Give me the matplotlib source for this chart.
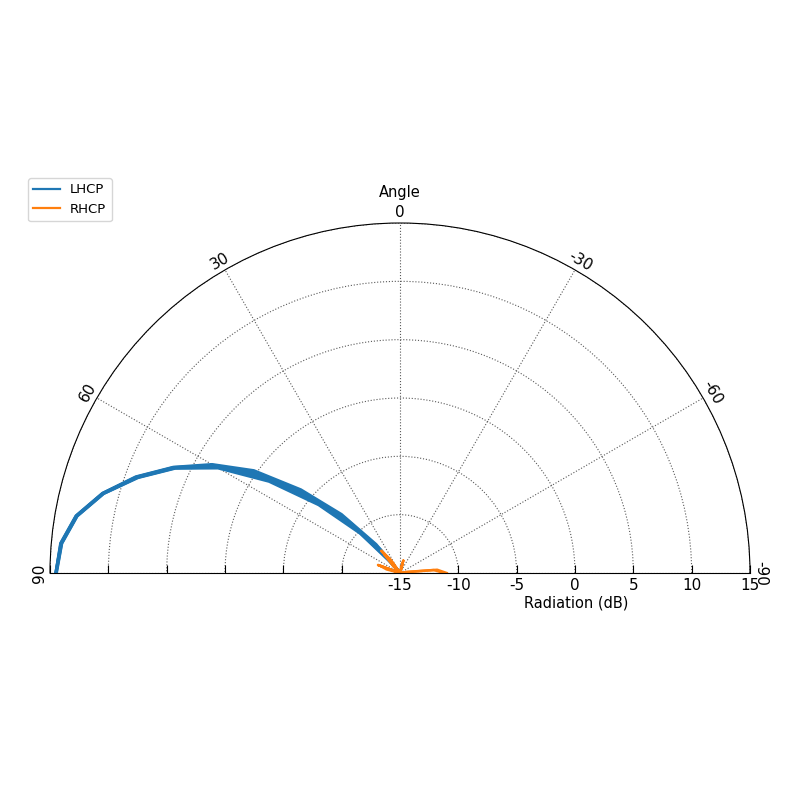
import numpy as np
import matplotlib
matplotlib.use("Agg")
import matplotlib.pyplot as plt

# angles in degrees, 0 = boresight
angles = [-90, -85, -80, -75, -70, -65, -60, -55, -50, -45, -40, -35, -30,
          -25, -20, -15, -10, -5, 0, 5, 10, 15, 20, 25, 30, 35, 40,
          45, 50, 55, 60, 65, 70, 75, 80, 85, 90]

floor = [-15] * 26  # -90 .. 35, at or below the plot floor

lhcp_1 = floor + [-11.8, -7.9, -3.9, 0.3, 3.6, 6.45, 9.1, 11.4, 13.2, 14.2, 14.5]
lhcp_2 = floor + [-12.35, -8.5, -4.4, -0.1, 3.45, 6.4, 9.05, 11.38, 13.18, 14.18, 14.5]
lhcp_3 = floor + [-12.9, -9.1, -4.9, -0.5, 3.3, 6.35, 9.0, 11.35, 13.15, 14.15, 14.5]
lhcp_4 = floor + [-13.45, -9.6, -5.4, -0.9, 3.15, 6.3, 8.95, 11.32, 13.12, 14.12, 14.47]
lhcp_5 = floor + [-14.0, -10.2, -5.9, -1.3, 3.0, 6.25, 8.9, 11.3, 13.1, 14.1, 14.45]

rhcp_1 = [-11.0, -11.8, -14.5, -15, -15, -15, -15, -15, -15, -15, -15, -15, -15,
          -15, -15, -13.9, -15, -15, -15, -15, -15, -15, -15, -15, -15, -13.6, -12.5,
          -15, -15, -15, -15, -15, -13.0, -15, -15, -15, -15]
rhcp_2 = [-11.2, -12.1, -14.7, -15, -15, -15, -15, -15, -15, -15, -15, -15, -15,
          -15, -15, -14.2, -15, -15, -15, -15, -15, -15, -15, -15, -15, -14.0, -12.9,
          -14.2, -15, -15, -15, -15, -13.2, -13.8, -15, -15, -15]

r_ticks = [-15, -10, -5, 0, 5, 10, 15]
theta_ticks = [-90, -60, -30, 0, 30, 60, 90]

plt.rcParams["grid.linestyle"] = ":"
plt.rcParams["grid.color"] = "0.35"
plt.rcParams["grid.linewidth"] = 0.8

fig = plt.figure(figsize=(8, 8), dpi=100)
ax = fig.add_axes([0.0625, 0.065, 0.875, 0.875], projection="polar")
ax.set_theta_zero_location("N")
ax.set_thetamin(-90)
ax.set_thetamax(90)

th = np.radians(angles)
for i, vals in enumerate([lhcp_1, lhcp_2, lhcp_3, lhcp_4, lhcp_5]):
    ax.plot(th, vals, color="C0", lw=2.2, label="LHCP" if i == 0 else None)
ax.plot(th, rhcp_1, color="C1", lw=1.8, label="RHCP")
ax.plot(th, rhcp_2, color="C1", lw=1.8)

ax.set_rlim(-15, 15)
ax.set_rticks(r_ticks)
ax.set_yticklabels([str(v) for v in r_ticks])
ax.set_thetagrids(theta_ticks, labels=[str(v) for v in theta_ticks])
ax.tick_params(axis="x", labelsize=11, direction="in", length=6, pad=0.5,
               labelrotation="auto")
ax.tick_params(axis="y", labelsize=11, direction="in", length=6, left=True, right=True)
ax.grid(True)

fig.text(400 / 800, 1 - 193 / 800, "Angle", ha="center", va="center", fontsize=10.5)
fig.text(576 / 800, 1 - 603 / 800, "Radiation (dB)", ha="center", va="center",
         fontsize=10.5)

leg = fig.legend(loc="upper left", bbox_to_anchor=(28 / 800, 1 - 178 / 800),
                 borderaxespad=0, fontsize=9.5)
for line in leg.get_lines():
    line.set_linewidth(1.6)

fig.savefig("out.png", dpi=100)
